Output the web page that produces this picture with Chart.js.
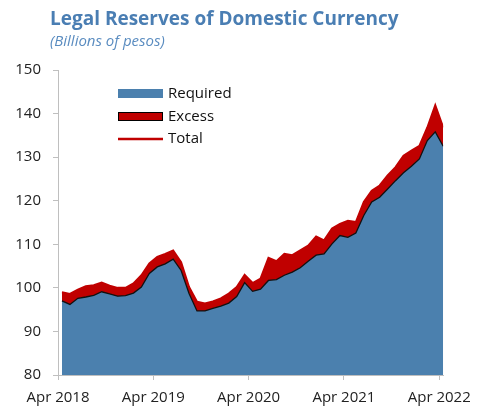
<!DOCTYPE html>
<html>
<head>
<meta charset="utf-8">
<script src="https://cdn.jsdelivr.net/npm/chart.js@4"></script>
<style>
  html, body { margin: 0; padding: 0; background: #fff; }
  #wrap { position: relative; width: 480px; height: 410px; }
</style>
</head>
<body>
<div id="wrap"><canvas id="grafik" width="480" height="410"></canvas></div>
<script>
// bulan (kategori), Apr 2018 - Apr 2022
const bulan = [
  "Apr 2018", "May 2018", "Jun 2018", "Jul 2018", "Aug 2018", "Sep 2018", "Oct 2018", "Nov 2018", "Dec 2018",
  "Jan 2019", "Feb 2019", "Mar 2019", "Apr 2019", "May 2019", "Jun 2019", "Jul 2019", "Aug 2019", "Sep 2019",
  "Oct 2019", "Nov 2019", "Dec 2019", "Jan 2020", "Feb 2020", "Mar 2020", "Apr 2020", "May 2020", "Jun 2020",
  "Jul 2020", "Aug 2020", "Sep 2020", "Oct 2020", "Nov 2020", "Dec 2020", "Jan 2021", "Feb 2021", "Mar 2021",
  "Apr 2021", "May 2021", "Jun 2021", "Jul 2021", "Aug 2021", "Sep 2021", "Oct 2021", "Nov 2021", "Dec 2021",
  "Jan 2022", "Feb 2022", "Mar 2022", "Apr 2022"
];

// Required reserves
const required = [
  97.0, 96.2, 97.6, 97.9, 98.3, 99.1, 98.6, 98.1, 98.2,
  98.8, 100.2, 103.3, 104.8, 105.5, 106.6, 104.0, 98.7, 94.7,
  94.7, 95.3, 95.8, 96.5, 98.0, 101.2, 99.2, 99.7, 101.7,
  101.9, 102.9, 103.6, 104.6, 106.1, 107.5, 107.8, 110.1, 112.0,
  111.6, 112.6, 116.6, 119.7, 120.8, 122.7, 124.6, 126.4, 127.9,
  129.6, 133.8, 135.8, 132.5
];

// Total = required + excess
const total = [
  99.0, 98.6, 99.6, 100.4, 100.6, 101.2, 100.5, 100.0, 100.0,
  101.0, 102.9, 105.6, 107.1, 107.8, 108.6, 105.9, 100.2, 96.8,
  96.4, 96.9, 97.6, 98.7, 100.2, 103.0, 101.1, 102.1, 106.9,
  106.1, 107.8, 107.5, 108.6, 109.7, 111.8, 110.9, 113.6, 114.7,
  115.4, 115.1, 119.7, 122.3, 123.5, 125.8, 127.7, 130.3, 131.5,
  132.6, 136.8, 141.9, 136.8
];

const labelSumbuX = ["Apr 2018", "Apr 2019", "Apr 2020", "Apr 2021", "Apr 2022"];

const biru = "#4b80ae";
const merah = "#c00000";
const warnaJudul = "#4a7eb3";
const fontUtama = "'Open Sans', 'Noto Sans', sans-serif";

function titik(nilai) {
  return nilai.map((v, i) => ({ x: i + 0.5, y: v }));
}

// judul + legenda digambar manual
const judulPlugin = {
  id: "judulLegenda",
  afterDraw(chart) {
    const ctx = chart.ctx;
    ctx.save();
    ctx.textBaseline = "alphabetic";
    ctx.textAlign = "left";
    ctx.fillStyle = warnaJudul;
    ctx.font = "bold 19px " + fontUtama;
    ctx.fillText("Legal Reserves of Domestic Currency", 50, 25);
    ctx.fillStyle = "#5a8cc0";
    ctx.font = "italic 15px " + fontUtama;
    ctx.fillText("(Billions of pesos)", 50, 46);

    // legenda
    ctx.fillStyle = biru;
    ctx.fillRect(118, 89, 45, 9);
    ctx.fillStyle = merah;
    ctx.fillRect(118, 112, 45, 9);
    ctx.strokeStyle = "#000";
    ctx.lineWidth = 1;
    ctx.strokeRect(118.5, 112.5, 44, 8);
    ctx.strokeStyle = merah;
    ctx.lineWidth = 2.5;
    ctx.beginPath();
    ctx.moveTo(118, 139);
    ctx.lineTo(163, 139);
    ctx.stroke();

    ctx.fillStyle = "#111";
    ctx.font = "15px " + fontUtama;
    ctx.textBaseline = "middle";
    ctx.fillText("Required", 168, 94);
    ctx.fillText("Excess", 168, 117);
    ctx.fillText("Total", 168, 139);
    ctx.restore();
  }
};

const ctx = document.getElementById("grafik").getContext("2d");
window.myChart = new Chart(ctx, {
  type: "line",
  data: {
    datasets: [
      {
        label: "Required",
        data: titik(required),
        backgroundColor: biru,
        borderColor: "#111",
        borderWidth: 1.3,
        fill: "origin",
        pointRadius: 0,
        tension: 0
      },
      {
        label: "Total",
        data: titik(total),
        backgroundColor: merah,
        borderColor: merah,
        borderWidth: 2,
        fill: "origin",
        pointRadius: 0,
        tension: 0
      }
    ]
  },
  options: {
    responsive: false,
    animation: false,
    layout: { padding: { top: 70, right: 26, bottom: 0, left: 0 } },
    plugins: {
      legend: { display: false },
      tooltip: { enabled: false }
    },
    scales: {
      x: {
        type: "linear",
        min: 0,
        max: 48.5,
        afterFit(scale) { scale.height = 35; },
        afterBuildTicks(scale) {
          scale.ticks = labelSumbuX.map((t, i) => ({ value: i * 12 }));
        },
        ticks: {
          color: "#222",
          font: { family: fontUtama, size: 15 },
          padding: 9,
          maxRotation: 0,
          callback: (v) => labelSumbuX[Math.round(v / 12)]
        },
        grid: { drawOnChartArea: false, drawTicks: true, tickLength: 5, color: "#bfbfbf" },
        border: { display: true, color: "#bfbfbf" }
      },
      y: {
        min: 80,
        max: 150,
        afterFit(scale) { scale.width = 58; },
        ticks: {
          stepSize: 10,
          color: "#222",
          font: { family: fontUtama, size: 15 },
          padding: 12
        },
        grid: { drawOnChartArea: false, drawTicks: true, tickLength: 5, color: "#bfbfbf" },
        border: { display: true, color: "#bfbfbf" }
      }
    }
  },
  plugins: [judulPlugin]
});
</script>
</body>
</html>
